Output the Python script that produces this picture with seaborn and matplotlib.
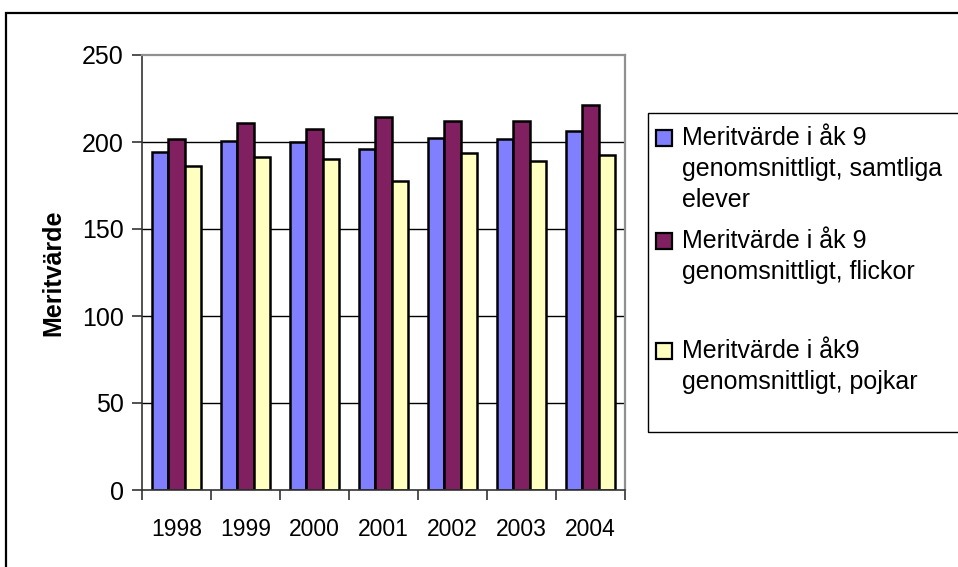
import pandas as pd
import seaborn as sns
import matplotlib.pyplot as plt
from matplotlib.patches import Rectangle

# Data
years = ["1998", "1999", "2000", "2001", "2002", "2003", "2004"]
samtliga = [194.5, 200.5, 199.8, 195.8, 202.5, 201.7, 206.3]
flickor = [201.7, 210.7, 207.5, 214.6, 212.0, 212.0, 221.3]
pojkar = [186.2, 191.4, 190.0, 177.6, 193.9, 189.3, 192.4]

series_names = ["samtliga", "flickor", "pojkar"]
colors = ["#8080FF", "#802060", "#FFFFC0"]
legend_lines = [
    ["Meritvärde i åk 9", "genomsnittligt, samtliga", "elever"],
    ["Meritvärde i åk 9", "genomsnittligt, flickor"],
    ["Meritvärde i åk9", "genomsnittligt, pojkar"],
]

df = pd.DataFrame({"year": years, "samtliga": samtliga,
                   "flickor": flickor, "pojkar": pojkar})
df_long = df.melt(id_vars="year", var_name="serie", value_name="varde")

sns.set_style("white")
plt.rcParams["font.family"] = ["Liberation Sans", "DejaVu Sans"]
plt.rcParams["text.color"] = "black"
plt.rcParams["axes.labelcolor"] = "black"
plt.rcParams["xtick.color"] = "black"
plt.rcParams["ytick.color"] = "black"

W, H = 958, 567
fig = plt.figure(figsize=(W / 100, H / 100), dpi=100)

# helper to convert pixel coords (from top-left) to figure fraction
def fx(x):
    return x / W

def fy(y):
    return 1 - y / H

# outer chart border
fig.add_artist(Rectangle((fx(6), fy(600)), fx(1000), fy(13) - fy(600),
                         transform=fig.transFigure, fill=False,
                         edgecolor="black", linewidth=1.6))

ax = fig.add_axes([fx(142), fy(490), fx(625) - fx(142), fy(55) - fy(490)])

sns.barplot(data=df_long, x="year", y="varde", hue="serie",
            hue_order=series_names, palette=colors, order=years,
            width=0.71, edgecolor="black", linewidth=1.8, saturation=1,
            legend=False, ax=ax)

ax.set_ylim(0, 250)
ax.set_xlim(-0.5, 6.5)
ax.set_yticks(range(0, 251, 50))
ax.tick_params(axis="y", labelsize=18, direction="out", length=7,
               width=1.2, color="#333333", pad=6, left=True)
ax.set_xticks([i - 0.5 for i in range(8)])
ax.set_xticklabels([])
ax.set_xticks(range(7), minor=True)
ax.set_xticklabels(years, minor=True)
ax.tick_params(axis="x", which="major", direction="out", length=7,
               width=1.2, color="#333333", bottom=True)
ax.tick_params(axis="x", which="minor", length=0, pad=20, labelsize=16.5)

for v in range(50, 250, 50):
    ax.axhline(v, color="black", linewidth=1.0, zorder=0)

ax.set_xlabel("")
ax.set_ylabel("Meritvärde", fontsize=18, fontweight="bold", labelpad=12)

for side in ["top", "right"]:
    ax.spines[side].set_color("#909090")
    ax.spines[side].set_linewidth(1.6)
for side in ["left", "bottom"]:
    ax.spines[side].set_color("#333333")
    ax.spines[side].set_linewidth(1.2)

# legend box, drawn by hand to keep the Excel-like layout
fig.add_artist(Rectangle((fx(648), fy(432)), fx(1000), fy(113) - fy(432),
                         transform=fig.transFigure, fill=False,
                         edgecolor="black", linewidth=1.0))
entry_tops = [145, 248, 358]
for top, col, lines in zip(entry_tops, colors, legend_lines):
    fig.add_artist(Rectangle((fx(656), fy(top + 1)), fx(16), fy(top - 15) - fy(top + 1),
                             transform=fig.transFigure, facecolor=col,
                             edgecolor="black", linewidth=1.6))
    for k, line in enumerate(lines):
        fig.text(fx(682), fy(top + 31 * k), line, fontsize=18,
                 va="baseline", ha="left")

fig.savefig("out.png", dpi=100)
